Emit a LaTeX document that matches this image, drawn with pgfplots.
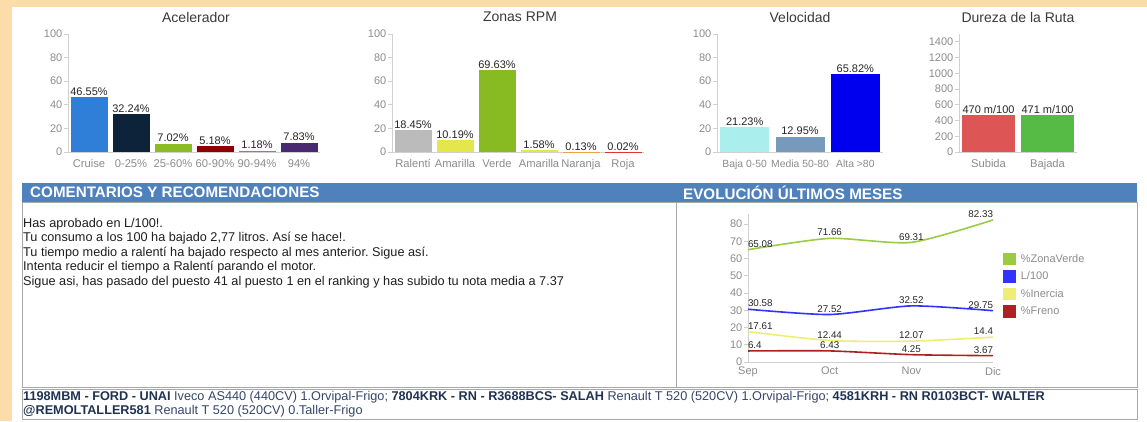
\documentclass[border=0pt]{standalone}
\usepackage{fontspec}
\setmainfont{Liberation Sans}
\usepackage{pgfplots}
\pgfplotsset{compat=1.18}
\frenchspacing
\definecolor{bgor}{HTML}{FCDCA8}
\definecolor{hdr}{HTML}{4F81BD}
\definecolor{boxg}{HTML}{A8A8A8}
\definecolor{axg}{HTML}{D0D0D0}
\definecolor{tickg}{HTML}{8C8C8C}
\definecolor{lab}{HTML}{262626}
\definecolor{ttl}{HTML}{3A3A3A}
\definecolor{txt}{HTML}{1E1E1E}
\definecolor{navy}{HTML}{1F3252}
\definecolor{navyn}{HTML}{35466A}
\definecolor{a1}{HTML}{2F7ED8}
\definecolor{a2}{HTML}{0D233A}
\definecolor{a3}{HTML}{8BBC21}
\definecolor{a4}{HTML}{910000}
\definecolor{a5}{HTML}{1AADCE}
\definecolor{a6}{HTML}{492970}
\definecolor{r1}{HTML}{BBBBBB}
\definecolor{r2}{HTML}{E5E54C}
\definecolor{r3}{HTML}{88BB22}
\definecolor{r5}{HTML}{F0A040}
\definecolor{r6}{HTML}{DD3333}
\definecolor{v1}{HTML}{AAEEEE}
\definecolor{v2}{HTML}{7799BB}
\definecolor{v3}{HTML}{0000EE}
\definecolor{d1}{HTML}{DD5555}
\definecolor{d2}{HTML}{55BB44}
\definecolor{zv}{HTML}{99CC44}
\definecolor{lc}{HTML}{3333FF}
\definecolor{inc}{HTML}{EEEE77}
\definecolor{fr}{HTML}{AA2222}
\def\Y#1{\the\dimexpr421pt-#1pt\relax}
\newcommand\fs[1]{\fontsize{#1}{#1}\selectfont}
\pgfplotsset{
  barax/.style={
    scale only axis, anchor=south west, clip=false,
    ymin=0, ybar,
    axis x line=bottom, axis y line=left,
    axis line style={-, draw=axg, line width=0.8pt},
    xtick style={draw=none},
    ytick style={draw=axg, line width=0.8pt},
    tick align=outside, major tick length=4pt,
    yticklabel style={font=\fs{11}, text=tickg, inner sep=1.5pt},
    xticklabel style={font=\fs{11.2}, text=tickg},
    /pgf/number format/assume math mode=true,
    /pgf/number format/1000 sep={},
    nodes near coords, point meta=explicit symbolic,
    every node near coord/.append style={font=\fs{11}, text=lab, inner sep=1.5pt},
  },
  b/.style={fill=#1, draw=none, bar shift=0pt},
}
\begin{document}
\begin{tikzpicture}
\fill[white] (0pt,0pt) rectangle (1147pt,421pt);
\fill[bgor] (0pt,\Y{7}) rectangle (1147pt,421pt);
\fill[bgor] (0pt,0pt) rectangle (12pt,421pt);

% titles
\node[font=\fs{14}, text=ttl] at (196pt,\Y{17}) {Acelerador};
\node[font=\fs{14}, text=ttl] at (520pt,\Y{17}) {Zonas RPM};
\node[font=\fs{14}, text=ttl] at (800pt,\Y{17}) {Velocidad};
\node[font=\fs{14}, text=ttl] at (1018pt,\Y{17}) {Dureza de la Ruta};

% Acelerador
\begin{axis}[barax, at={(68pt,\Y{152})}, width=252pt, height=118pt,
  xmin=-0.5, xmax=5.5, ymax=100, ytick={0,20,...,100}, bar width=37pt,
  xtick={0,...,5}, xticklabels={Cruise,0-25\%,25-60\%,60-90\%,90-94\%,94\%}]
\addplot[b=a1] coordinates {(0,46.55) [46.55\%]};
\addplot[b=a2] coordinates {(1,32.24) [32.24\%]};
\addplot[b=a3] coordinates {(2,7.02) [7.02\%]};
\addplot[b=a4] coordinates {(3,5.18) [5.18\%]};
\addplot[b=a5] coordinates {(4,1.18) [1.18\%]};
\addplot[b=a6] coordinates {(5,7.83) [7.83\%]};
\end{axis}

% Zonas RPM
\begin{axis}[barax, at={(392pt,\Y{152})}, width=252pt, height=118pt,
  xmin=-0.5, xmax=5.5, ymax=100, ytick={0,20,...,100}, bar width=37pt,
  xtick={0,...,5}, xticklabels={Ralentí,Amarilla,Verde,Amarilla,Naranja,Roja}]
\addplot[b=r1] coordinates {(0,18.45) [18.45\%]};
\addplot[b=r2] coordinates {(1,10.19) [10.19\%]};
\addplot[b=r3] coordinates {(2,69.63) [69.63\%]};
\addplot[b=r2] coordinates {(3,1.58) [1.58\%]};
\addplot[b=r5] coordinates {(4,0.13) [0.13\%]};
\addplot[b=r6] coordinates {(5,0.02) [0.02\%]};
\end{axis}

% Velocidad
\begin{axis}[barax, at={(717pt,\Y{152})}, width=166pt, height=118pt,
  xmin=-0.5, xmax=2.5, ymax=100, ytick={0,20,...,100}, bar width=49pt,
  xticklabel style={font=\fs{10.4}},
  xtick={0,...,2}, xticklabels={Baja 0-50,Media 50-80,Alta >80}]
\addplot[b=v1] coordinates {(0,21.23) [21.23\%]};
\addplot[b=v2] coordinates {(1,12.95) [12.95\%]};
\addplot[b=v3] coordinates {(2,65.82) [65.82\%]};
\end{axis}

% Dureza
\begin{axis}[barax, at={(959pt,\Y{152})}, width=118pt, height=118pt,
  xmin=-0.5, xmax=1.5, ymax=1500, ytick={0,200,...,1400}, bar width=53pt,
  xtick={0,1}, xticklabels={Subida,Bajada}]
\addplot[b=d1] coordinates {(0,470) [470 m/100]};
\addplot[b=d2] coordinates {(1,471) [471 m/100]};
\end{axis}

% header and boxes
\fill[hdr] (22pt,\Y{202}) rectangle (1137pt,\Y{183});
\node[anchor=west, font=\fs{15.2}\bfseries, text=white, inner sep=0pt] at (30pt,\Y{192.5}) {COMENTARIOS Y RECOMENDACIONES};
\node[anchor=west, font=\fs{15.2}\bfseries, text=white, inner sep=0pt] at (683pt,\Y{192.5}) {EVOLUCIÓN ÚLTIMOS MESES};
\draw[boxg, line width=0.8pt] (22pt,\Y{202}) rectangle (1137pt,\Y{387});
\draw[boxg, line width=0.8pt] (676pt,\Y{202}) -- (676pt,\Y{387});
\draw[boxg, line width=0.8pt] (22pt,\Y{389}) rectangle (1137pt,\Y{419});

% comments
\begin{scope}[every node/.style={anchor=west, font=\fs{12.7}, text=txt, inner sep=0pt}]
\node at (23pt,\Y{224}) {Has aprobado en L/100!.};
\node at (23pt,\Y{238.5}) {Tu consumo a los 100 ha bajado 2,77 litros. Así se hace!.};
\node at (23pt,\Y{253}) {Tu tiempo medio a ralentí ha bajado respecto al mes anterior. Sigue así.};
\node at (23pt,\Y{267.5}) {Intenta reducir el tiempo a Ralentí parando el motor.};
\node at (23pt,\Y{282}) {Sigue asi, has pasado del puesto 41 al puesto 1 en el ranking y has subido tu nota media a 7.37};
\end{scope}

% bottom text
\begin{scope}[every node/.style={anchor=west, font=\fs{12.7}, text=navyn, inner sep=0pt}]
\node at (23pt,\Y{397}) {\textcolor{navy}{\bfseries 1198MBM - FORD - UNAI} Iveco AS440 (440CV) 1.Orvipal-Frigo; \textcolor{navy}{\bfseries 7804KRK - RN - R3688BCS- SALAH} Renault T 520 (520CV) 1.Orvipal-Frigo; \textcolor{navy}{\bfseries 4581KRH - RN R0103BCT- WALTER}};
\node at (23pt,\Y{411}) {\textcolor{navy}{\bfseries @REMOLTALLER581} Renault T 520 (520CV) 0.Taller-Frigo};
\end{scope}

% line chart
\begin{axis}[scale only axis, anchor=south west, clip=false,
  at={(748pt,\Y{362})}, width=245pt, height=148.4pt,
  xmin=0, xmax=3, ymin=0, ymax=86,
  xtick={0,1,2,3}, xticklabels={Sep,Oct,Nov,Dic},
  ytick={0,10,...,80},
  axis x line=bottom, axis y line=left,
  axis line style={-, draw=axg, line width=0.8pt},
  xtick style={draw=none},
  ytick style={draw=axg, line width=0.8pt},
  tick align=outside, major tick length=4pt,
  yticklabel style={font=\fs{11}, text=tickg, inner sep=1.5pt},
  xticklabel style={font=\fs{11}, text=tickg, inner sep=1pt},
  /pgf/number format/assume math mode=true,
  nodes near coords, point meta=explicit symbolic,
  every node near coord/.append style={font=\fs{9.8}, text=lab, inner sep=1.5pt},
  legend style={at={(1.041,0.74)}, anchor=north west, draw=none, fill=none,
    font=\fs{11}, text=tickg, row sep=4pt, inner sep=0pt},
  legend cell align=left,
  legend image code/.code={\fill[#1] (0pt,-5.5pt) rectangle (11pt,5.5pt); \path (14pt,0pt);},
  ]
\addplot[color=zv, line width=1.6pt, smooth, tension=0.4] coordinates {(0,65.08) [\rlap{65.08}] (1,71.66) [71.66] (2,69.31) [69.31] (3,82.33) [\llap{82.33}]};
\addlegendentry{\%ZonaVerde}
\addplot[color=lc, line width=1.6pt, smooth, tension=0.4] coordinates {(0,30.58) [\rlap{30.58}] (1,27.52) [27.52] (2,32.52) [32.52] (3,29.75) [\llap{29.75}]};
\addlegendentry{L/100}
\addplot[color=inc, line width=1.6pt, smooth, tension=0.4] coordinates {(0,17.61) [\rlap{17.61}] (1,12.44) [12.44] (2,12.07) [12.07] (3,14.4) [\llap{14.4}]};
\addlegendentry{\%Inercia}
\addplot[color=fr, line width=1.6pt, smooth, tension=0.4] coordinates {(0,6.4) [\rlap{6.4}] (1,6.43) [6.43] (2,4.25) [4.25] (3,3.67) [\llap{3.67}]};
\addlegendentry{\%Freno}
\end{axis}
\end{tikzpicture}
\end{document}
